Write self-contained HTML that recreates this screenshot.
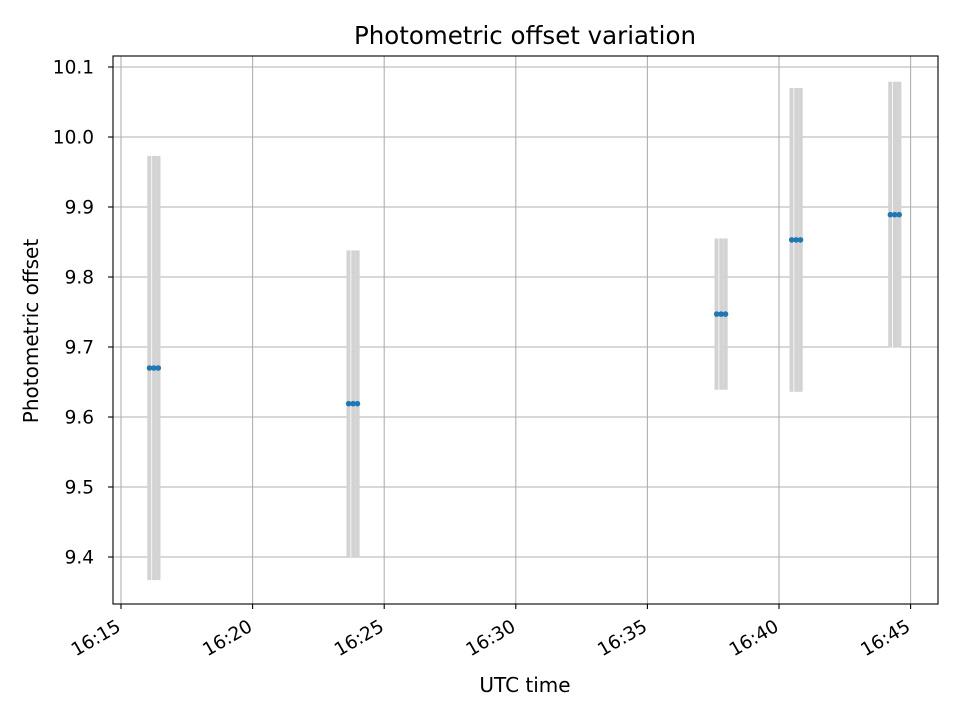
<!DOCTYPE html>
<html><head><meta charset="utf-8"><style>
body{margin:0;background:#fff}
svg{display:block;font-family:"DejaVu Sans","Liberation Sans",sans-serif}
</style></head><body>
<svg id="chart" width="960" height="720" xmlns="http://www.w3.org/2000/svg">
<rect width="960" height="720" fill="#fff"/>
<text x="525" y="44" font-size="24.5" text-anchor="middle">Photometric offset variation</text>
<text x="525" y="692" font-size="20" text-anchor="middle">UTC time</text>
<text x="0" y="0" font-size="20" text-anchor="middle" transform="translate(38,331) rotate(-90)">Photometric offset</text>
<g id="grid"></g><g id="bars"></g><g id="points"></g><g id="axes"></g>
</svg>
<script>
// seconds after 16:15:00
const times=[65,75,85, 519,529,539, 1358,1368,1378, 1529,1539,1549, 1754,1764,1774];
const offsets=[9.670,9.670,9.670, 9.619,9.619,9.619, 9.747,9.747,9.747, 9.853,9.853,9.853, 9.889,9.889,9.889];
const errors=[0.303,0.303,0.303, 0.219,0.219,0.219, 0.108,0.108,0.108, 0.217,0.217,0.217, 0.19,0.19,0.19];
const xTickLabels=["16:15","16:20","16:25","16:30","16:35","16:40","16:45"];
const xTickSecs=[0,300,600,900,1200,1500,1800];
const yTicks=[9.4,9.5,9.6,9.7,9.8,9.9,10.0,10.1];

const L=113,R=938,T=56,B=604;
const X=s=>121+s*(131.6/300);
const Y=v=>557-(v-9.4)*700;
const NS="http://www.w3.org/2000/svg";
function mk(tag,attrs,parent){const e=document.createElementNS(NS,tag);for(const k in attrs)e.setAttribute(k,attrs[k]);parent.appendChild(e);return e;}
const grid=document.getElementById('grid'),bars=document.getElementById('bars'),pts=document.getElementById('points'),axes=document.getElementById('axes');
xTickSecs.forEach((s,i)=>{
  const x=X(s);
  const g=mk('line',{x1:x,x2:x,y1:T,y2:B,stroke:'#b0b0b0','stroke-width':1.1},grid);
  
  
  const t=mk('line',{x1:x,x2:x,y1:B,y2:B+5,stroke:'#000','stroke-width':1.1},axes);
  
  
  const lb=mk('text',{x:0,y:0,'font-size':18.5,'text-anchor':'end',transform:`translate(${x+1},${B+26}) rotate(-30)`},axes);
  lb.textContent=xTickLabels[i];
  
  
});
yTicks.forEach(v=>{
  const y=Y(v);
  const g=mk('line',{x1:L,x2:R,y1:y,y2:y,stroke:'#b0b0b0','stroke-width':1.1},grid);
  
  
  const t=mk('line',{x1:L-5,x2:L,y1:y,y2:y,stroke:'#000','stroke-width':1.1},axes);
  
  
  const lb=mk('text',{x:L-19,y:y+6.5,'font-size':18.5,'text-anchor':'end'},axes);
  lb.textContent=v.toFixed(1);
  
  
});
times.forEach((s,i)=>{
  const x=X(s);
  const b=mk('rect',{x:x-2.2,y:Y(offsets[i]+errors[i]),width:4.4,height:Y(offsets[i]-errors[i])-Y(offsets[i]+errors[i]),fill:'#d3d3d3'},bars);
  
  
});
times.forEach((s,i)=>{
  if(i%3!==1)return;
  const x=X(s);
  const sep=mk('line',{x1:x-2.2,x2:x-2.2,y1:Y(offsets[i]+errors[i]),y2:Y(offsets[i]-errors[i]),stroke:'#fff','stroke-width':0.8},bars);
  
  
});
times.forEach((s,i)=>{
  const p=mk('circle',{cx:X(s),cy:Y(offsets[i]),r:2.8,fill:'#1f77b4'},pts);
  
  
});
const fr=mk('rect',{x:L,y:T,width:R-L,height:B-T,fill:'none',stroke:'#000','stroke-width':1.1},axes);


</script>
</body></html>
